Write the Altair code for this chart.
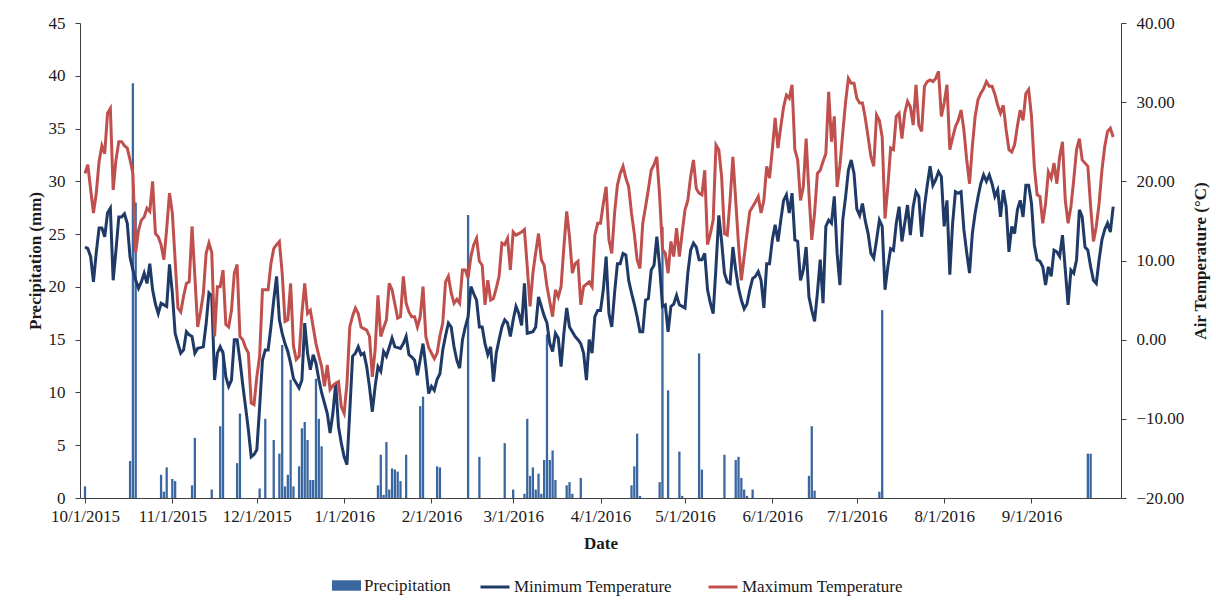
import altair as alt
import pandas as pd

# ---------------- data ----------------
max_temp = [
    21.0, 22.1, 19.0, 16.0, 18.5, 22.5, 24.5, 23.5, 28.6, 29.2,
    18.9, 22.7, 25.0, 25.0, 24.5, 24.2, 22.7, 21.0, 11.0, 13.8,
    15.1, 15.5, 16.6, 16.2, 20.0, 13.4, 13.0, 12.0, 10.1, 14.0,
    18.5, 16.0, 10.0, 4.0, 3.5, 5.5, 7.1, 7.3, 14.3, 8.0,
    1.6, 3.5, 5.8, 10.9, 12.2, 11.0, 0.4, 6.7, 6.7, 8.8,
    1.9, 1.6, 3.7, 8.4, 9.5, 0.4, 0.0, -1.0, -1.7, -8.0,
    -8.2, -4.7, -2.1, 6.3, 6.3, 6.3, 9.6, 11.5, 12.0, 12.4,
    8.4, 2.3, 2.5, 7.1, -0.8, -2.5, -2.1, 3.3, 7.1, 3.3,
    3.7, 1.6, -0.5, -2.0, -3.4, -5.9, -3.2, -6.3, -5.8, -5.5,
    -5.3, -8.5, -9.3, -5.5, 1.6, 3.0, 4.0, 3.3, 1.6, 1.4,
    1.2, 0.4, -4.7, -1.3, 5.6, 0.4, 1.5, 2.5, 7.1, 6.3,
    4.5, 2.7, 2.9, 8.0, 4.6, 3.5, 2.9, 2.9, 1.6, 2.9,
    6.7, 0.4, -1.0, -1.7, -2.4, -1.7, 0.5, 2.1, 7.3, 8.0,
    5.9, 4.6, 5.1, 4.6, 8.8, 8.8, 7.8, 10.5, 12.0, 12.8,
    9.9, 9.4, 4.4, 7.5, 5.0, 5.2, 6.5, 8.0, 12.2, 12.0,
    12.8, 8.8, 13.6, 13.2, 13.4, 13.6, 13.9, 9.2, 4.2, 8.4,
    11.0, 13.4, 10.1, 9.4, 6.7, 4.8, 2.9, 6.3, 5.4, 6.7,
    11.7, 16.2, 13.0, 8.4, 9.6, 9.9, 4.4, 6.7, 7.0, 7.3,
    6.7, 13.2, 14.7, 14.7, 17.2, 19.3, 12.6, 10.9, 16.0, 19.5,
    21.0, 21.9, 20.4, 19.3, 16.0, 13.4, 10.1, 9.0, 14.7, 16.8,
    19.0, 21.4, 22.1, 23.1, 18.1, 11.4, 10.9, 8.4, 12.4, 10.5,
    14.1, 10.5, 13.5, 16.4, 17.6, 20.6, 22.7, 19.1, 18.5, 18.3,
    21.4, 12.0, 13.4, 15.1, 24.6, 24.0, 20.6, 13.4, 13.2, 17.6,
    23.1, 17.6, 12.0, 7.5, 10.5, 13.4, 16.2, 16.8, 17.4, 18.1,
    16.0, 17.6, 21.9, 20.4, 24.0, 28.0, 24.2, 26.9, 29.4, 30.9,
    30.5, 32.2, 24.0, 22.7, 17.6, 19.3, 25.4, 18.5, 12.6, 16.0,
    21.0, 21.4, 22.5, 23.5, 31.3, 25.0, 28.2, 19.3, 22.0, 26.1,
    30.0, 33.0, 32.4, 32.4, 30.5, 29.9, 29.9, 28.0, 25.6, 23.1,
    21.9, 28.4, 27.7, 25.6, 15.3, 19.3, 24.2, 24.0, 28.2, 28.6,
    25.4, 28.6, 30.1, 29.4, 27.1, 32.2, 27.1, 26.3, 32.0, 32.6,
    32.8, 32.6, 33.0, 33.9, 28.2, 29.9, 32.2, 24.0, 25.5, 26.9,
    27.7, 29.0, 26.5, 22.7, 19.7, 24.4, 28.2, 30.3, 31.1, 31.7,
    32.6, 32.0, 32.0, 31.0, 29.6, 28.6, 29.6, 26.5, 24.0, 23.7,
    24.6, 27.0, 29.0, 27.7, 31.1, 31.6, 28.2, 21.9, 18.3, 18.1,
    14.7, 17.2, 21.2, 20.4, 22.3, 19.7, 23.1, 25.0, 17.6, 14.7,
    16.8, 20.2, 24.0, 25.4, 22.7, 22.3, 21.9, 16.8, 12.4, 14.3,
    17.2, 21.4, 24.4, 26.3, 26.7, 25.6,
]

min_temp = [
    11.7, 11.5, 10.5, 7.3, 11.0, 14.1, 14.1, 13.0, 16.0, 16.6,
    7.5, 11.3, 15.5, 15.5, 15.9, 14.7, 10.4, 8.8, 7.5, 6.5,
    7.3, 8.4, 7.1, 9.6, 6.3, 4.5, 3.3, 4.6, 4.4, 4.2,
    9.5, 5.9, 0.8, -0.5, -1.7, -1.3, 1.0, 0.6, 0.4, -1.7,
    -1.1, -1.0, -0.9, 2.0, 5.9, 5.5, -5.1, -1.7, -0.9, -1.7,
    -4.7, -5.9, -5.1, 0.0, 0.0, -2.6, -5.7, -8.5, -11.4, -14.8,
    -14.5, -13.9, -8.5, -2.6, -1.3, -1.3, 1.6, 5.0, 8.0, 2.5,
    0.8, -0.5, -1.5, -3.0, -4.9, -5.5, -6.1, -5.1, 2.1, -1.7,
    -3.8, -1.9, -3.0, -5.0, -6.7, -8.0, -9.3, -11.8, -9.3, -5.5,
    -11.0, -13.1, -14.8, -15.8, -9.0, -2.1, -1.7, -0.9, -1.9, -1.7,
    -3.4, -6.0, -9.1, -5.9, -3.4, -4.0, -1.5, -2.1, -1.0, 0.2,
    -0.9, -1.0, -1.1, -0.5, 0.4, -1.9, -2.2, -2.6, -4.5, -2.5,
    -0.5, -3.4, -6.8, -5.9, -6.4, -5.0, -4.3, -1.3, 0.5, 2.1,
    1.6, -0.9, -2.6, -3.6, 0.0, 1.6, 2.9, 6.7, 5.8, 5.0,
    1.6, 1.6, -0.5, -1.9, -0.9, -5.3, -1.7, 0.0, 1.6, 2.5,
    2.1, 0.4, 2.5, 4.2, 3.3, 1.8, 7.1, 0.8, 0.9, 1.0,
    1.6, 5.4, 4.2, 3.0, 2.1, -0.5, -1.5, 0.8, 0.2, -3.4,
    0.8, 4.0, 1.6, 1.0, 0.4, 0.0, -0.5, -1.7, -5.1, 0.0,
    -1.7, 2.9, 3.7, 3.7, 6.3, 10.5, 3.3, 1.6, 5.9, 9.6,
    9.6, 10.9, 10.7, 7.5, 5.9, 4.5, 2.9, 1.0, 1.0, 5.0,
    5.2, 8.8, 9.4, 13.0, 9.2, 4.2, 4.4, 1.0, 4.2, 4.5,
    5.6, 4.4, 4.2, 4.0, 8.4, 11.3, 12.2, 11.7, 10.1, 10.1,
    10.9, 6.3, 4.6, 3.3, 9.2, 15.7, 12.4, 8.4, 7.3, 7.1,
    11.7, 8.8, 6.5, 5.0, 3.9, 4.5, 6.3, 7.7, 8.0, 8.6,
    7.5, 4.0, 9.6, 9.6, 12.6, 14.5, 12.4, 15.1, 17.6, 18.3,
    16.0, 18.5, 12.6, 12.4, 7.5, 8.8, 11.7, 5.4, 3.7, 2.3,
    5.9, 10.1, 4.6, 14.3, 15.1, 14.7, 18.1, 10.9, 6.9, 15.1,
    18.0, 21.4, 22.7, 21.0, 16.5, 15.7, 17.2, 15.0, 13.4, 10.9,
    10.3, 12.6, 15.1, 14.3, 6.3, 9.2, 11.5, 11.3, 14.7, 16.8,
    12.4, 14.7, 17.0, 13.2, 16.8, 18.7, 18.1, 13.0, 16.8, 19.5,
    21.9, 19.5, 20.2, 21.2, 20.6, 14.3, 17.6, 8.2, 14.7, 18.7,
    18.5, 18.7, 13.9, 11.0, 8.4, 13.4, 16.0, 18.0, 19.7, 20.8,
    20.0, 20.8, 19.7, 18.1, 18.9, 15.5, 18.9, 16.8, 11.1, 14.3,
    13.4, 16.4, 17.6, 15.5, 19.5, 19.5, 17.2, 12.0, 10.1, 9.9,
    9.2, 6.9, 9.2, 8.0, 11.3, 11.1, 10.5, 13.2, 8.8, 4.4,
    8.8, 8.4, 10.1, 16.4, 15.5, 11.7, 11.3, 9.2, 7.5, 7.1,
    10.1, 12.6, 13.9, 14.7, 13.6, 16.8,
]

# precipitation: day index (0 = 10/1/2015) and amount in mm
precip_day = [0, 16, 17, 18, 27, 28, 29, 31, 32, 38, 39, 45, 48, 49, 54, 55, 62, 64,
              67, 69, 70, 71, 72, 73, 74, 76, 77, 78, 79, 80, 81, 82, 83, 84,
              104, 105, 106, 107, 108, 109, 110, 111, 112, 114, 119, 120, 125, 126,
              136, 140, 149, 152, 156, 157, 158, 159, 160, 161, 162, 163, 164, 165,
              166, 167, 171, 172, 173, 176, 194, 195, 196, 197, 204, 205, 207, 211,
              212, 218, 219, 227, 231, 232, 233, 234, 235, 237, 257, 258, 259, 282,
              283, 356, 357]
precip_mm = [1.1, 3.5, 39.3, 28.0, 2.2, 0.6, 2.9, 1.8, 1.6, 1.2, 5.7, 0.8, 6.8, 14.0, 3.3, 8.0, 0.9, 7.5,
             5.5, 4.2, 14.5, 1.1, 2.2, 11.2, 1.1, 3.0, 6.6, 7.2, 5.5, 1.7, 1.7, 11.3, 7.5, 4.9,
             1.2, 4.1, 0.3, 5.3, 0.8, 2.8, 2.7, 2.5, 1.6, 4.1, 8.7, 9.6, 3.0, 2.9,
             26.8, 3.9, 5.2, 0.8, 0.4, 7.5, 2.1, 2.9, 0.8, 2.3, 0.4, 3.6, 15.5, 3.6,
             4.5, 1.7, 1.2, 1.5, 0.4, 1.9, 1.2, 3.0, 6.1, 0.2, 1.5, 25.7, 10.2, 4.4,
             0.2, 13.7, 2.7, 4.1, 3.6, 3.9, 1.9, 0.8, 0.2, 0.8, 2.1, 6.8, 0.7, 0.6,
             17.8, 4.2, 4.2]

month_ticks = [(2015, 10), (2015, 11), (2015, 12), (2016, 1), (2016, 2), (2016, 3),
               (2016, 4), (2016, 5), (2016, 6), (2016, 7), (2016, 8), (2016, 9)]

series_names = ["Precipitation", "Minimum Temperature", "Maximum Temperature"]
colors = ["#3B67A0", "#1F3A66", "#C0504D"]

# ---------------- tables ----------------
n_days = len(max_temp)
dates = pd.date_range("2015-10-01", periods=n_days, freq="D").strftime("%Y-%m-%d").tolist()

temp_df = pd.DataFrame({
    "date": dates + dates,
    "temp": min_temp + max_temp,
    "series": [series_names[1]] * n_days + [series_names[2]] * n_days,
})
precip_df = pd.DataFrame({
    "date": [dates[d] for d in precip_day],
    "precip": precip_mm,
    "series": series_names[0],
})

FONT = "Liberation Serif"
AX = "#404040"
TXT = "#1a1a1a"

x_enc = alt.X(
    "date:T",
    scale=alt.Scale(type="utc",
                    domain=[alt.DateTime(year=2015, month=10, date=1, utc=True),
                            alt.DateTime(year=2016, month=10, date=1, utc=True)]),
    axis=alt.Axis(
        values=[alt.DateTime(year=y, month=m, date=1, utc=True) for y, m in month_ticks],
        format="%-m/%-d/%Y", labelFont=FONT, labelFontSize=17, labelColor=TXT,
        tickSize=5, tickColor=AX, domainColor=AX, labelPadding=5, grid=False,
        labelOverlap=False, labelFlush=False,
        title="Date", titleFont=FONT, titleFontSize=17, titleFontWeight="bold",
        titleColor=TXT, titleY=45, titleBaseline="middle",
    ),
)

bars = alt.Chart(precip_df).mark_bar(size=2.3).encode(
    x=x_enc,
    y=alt.Y(
        "precip:Q",
        scale=alt.Scale(domain=[0, 45], nice=False),
        axis=alt.Axis(
            values=list(range(0, 50, 5)), labelFont=FONT, labelFontSize=17,
            labelColor=TXT, tickSize=5, tickColor=AX, domainColor=AX, labelPadding=10,
            grid=False, title="Precipitation (mm)", titleFont=FONT, titleFontSize=17,
            titleFontWeight="bold", titleColor=TXT, titleAngle=270, titleX=-45,
            titleBaseline="middle",
        ),
    ),
    fill=alt.Fill(
        "series:N",
        scale=alt.Scale(domain=series_names[:1], range=colors[:1]),
        legend=alt.Legend(
            title=None, orient="none", legendX=252, legendY=548,
            symbolType="M-1,-0.36H1V0.36H-1Z", symbolSize=841, symbolStrokeWidth=0,
            labelFont=FONT, labelFontSize=17, labelColor=TXT, labelOffset=3, padding=0,
            labelLimit=400,
        ),
    ),
)

lines = alt.Chart(temp_df).mark_line(strokeWidth=3).encode(
    x=x_enc,
    y=alt.Y(
        "temp:Q",
        scale=alt.Scale(domain=[-20, 40], nice=False),
        axis=alt.Axis(
            orient="right", values=list(range(-20, 50, 10)), format=".2f",
            labelFont=FONT, labelFontSize=17, labelColor=TXT, tickSize=5,
            tickColor=AX, domainColor=AX, labelPadding=10, grid=False,
            title="Air Temperature (°C)", titleFont=FONT, titleFontSize=17,
            titleFontWeight="bold", titleColor=TXT, titleAngle=270, titleX=79,
            titleBaseline="middle",
        ),
    ),
    stroke=alt.Stroke(
        "series:N",
        scale=alt.Scale(domain=series_names[1:], range=colors[1:]),
        sort=series_names[1:],
        legend=alt.Legend(
            title=None, orient="none", legendX=399, legendY=548, direction="horizontal",
            symbolType="stroke", symbolSize=841, symbolStrokeWidth=3,
            labelFont=FONT, labelFontSize=17, labelColor=TXT, labelOffset=3,
            columnPadding=30, padding=0, labelLimit=400,
        ),
    ),
    detail="series:N",
)

chart = (
    alt.layer(bars, lines)
    .resolve_scale(y="independent")
    .properties(
        width=1041, height=475,
        autosize=alt.AutoSizeParams(type="none"),
        padding={"left": 80, "top": 23, "right": 95, "bottom": 108},
        background="white",
    )
    .configure(font=FONT)
    .configure_axis(labelFont=FONT, titleFont=FONT)
    .configure_legend(labelFont=FONT, titleFont=FONT)
    .configure_view(stroke=None)
)

chart.save("out.html", embed_options={"renderer": "svg", "actions": False})
